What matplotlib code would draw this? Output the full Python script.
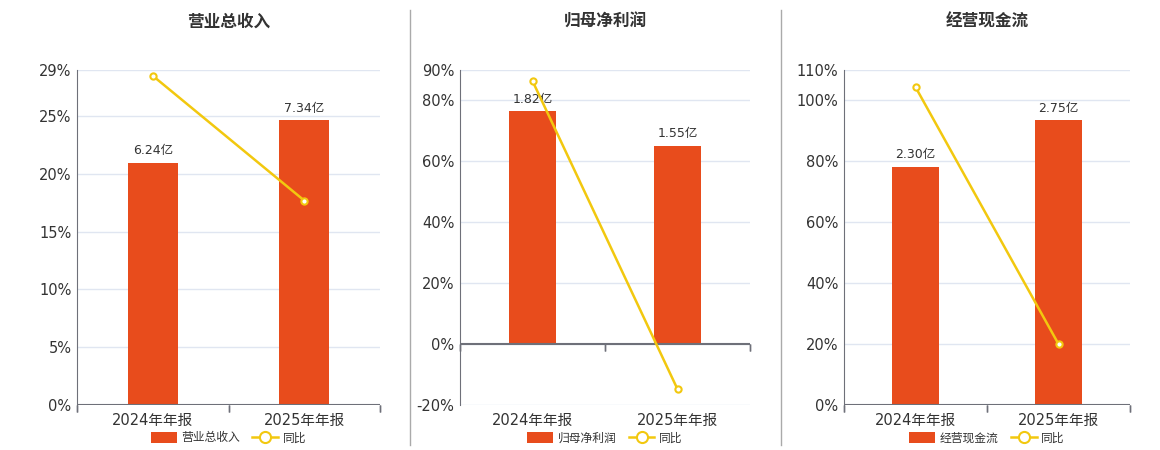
import matplotlib
matplotlib.use('Agg')
import matplotlib.pyplot as plt
from matplotlib.patches import Patch
from matplotlib.lines import Line2D

plt.rcParams['font.family'] = ['DejaVu Sans', 'Noto Sans CJK SC']

categories = ['2024年年报', '2025年年报']
titles = ['营业总收入', '归母净利润', '经营现金流']
bar_values = [[6.24, 7.34], [1.82, 1.55], [2.30, 2.75]]
bar_labels = [['6.24亿', '7.34亿'], ['1.82亿', '1.55亿'], ['2.30亿', '2.75亿']]
yoy_values = [[28.5, 17.7], [86.4, -14.8], [104.4, 20.0]]
pct_ticks = [[0, 5, 10, 15, 20, 25, 29],
             [-20, 0, 20, 40, 60, 80, 90],
             [0, 20, 40, 60, 80, 100, 110]]
bar_limits = [(0, 8.63), (-0.477, 2.143), (0, 3.235)]

BAR_COLOR = '#e84c1c'
LINE_COLOR = '#f2c80f'
GRID_COLOR = '#e0e6f1'
AXIS_COLOR = '#6e7079'
TEXT_COLOR = '#333333'

fig = plt.figure(figsize=(11.6, 4.5), dpi=100)

# axes boxes in pixels: left, right
boxes = [(77, 380), (460, 750), (844, 1130)]
W, H = 1160, 450
top_px, bot_px = 70, 405

for i in range(3):
    l, r = boxes[i]
    ax = fig.add_axes([l / W, (H - bot_px) / H, (r - l) / W, (bot_px - top_px) / H])
    ax_bar = ax.twinx()
    ax_line = ax.twinx()

    x = list(range(len(categories)))
    ticks = pct_ticks[i]
    ax.set_xlim(-0.5, 1.5)
    ax.set_ylim(ticks[0], ticks[-1])
    ax.set_yticks(ticks)
    ax.set_yticklabels([f'{t}%' for t in ticks], fontsize=10.5, color=TEXT_COLOR)
    ax.tick_params(axis='y', length=0, pad=4)
    ax.grid(axis='y', color=GRID_COLOR, linewidth=1)
    ax.set_axisbelow(True)

    # bars on hidden secondary axis
    ax_bar.set_ylim(*bar_limits[i])
    ax_bar.set_yticks([])
    bars = ax_bar.bar(x, bar_values[i], width=0.33, color=BAR_COLOR, zorder=2)
    for b, lab in zip(bars, bar_labels[i]):
        ax_bar.annotate(lab, (b.get_x() + b.get_width() / 2, b.get_height()),
                        xytext=(0, 4), textcoords='offset points',
                        ha='center', va='bottom', fontsize=9, color=TEXT_COLOR)

    # yoy line on its own layer above the bars, same scale as percent axis
    ax_line.set_ylim(ticks[0], ticks[-1])
    ax_line.set_yticks([])
    ax_line.axhline(0, color=AXIS_COLOR, linewidth=1.5, zorder=1)
    for bx in [-0.5, 0.5, 1.5]:
        ax_line.plot([bx, bx], [0, 0], marker=3, markersize=5, color=AXIS_COLOR,
                     clip_on=False, zorder=1)
    ax_line.plot(x, yoy_values[i], color=LINE_COLOR, linewidth=1.8, marker='o',
                 markersize=4.5, markerfacecolor='white', markeredgecolor=LINE_COLOR,
                 markeredgewidth=1.5, zorder=5)

    for a in (ax, ax_bar, ax_line):
        for s in a.spines.values():
            s.set_visible(False)
    ax.spines['left'].set_visible(True)
    ax.spines['left'].set_color(AXIS_COLOR)

    ax.set_xticks([])
    for xi, c in zip(x, categories):
        ax.text(xi, -0.025, c, transform=ax.get_xaxis_transform(),
                ha='center', va='top', fontsize=10.5, color=TEXT_COLOR)

    ax.set_title(titles[i], fontsize=12, fontweight='bold', color=TEXT_COLOR,
                 pad=31)

    handles = [Patch(facecolor=BAR_COLOR, edgecolor='none'),
               Line2D([0], [0], color=LINE_COLOR, linewidth=1.8, marker='o',
                      markersize=8, markerfacecolor='white',
                      markeredgecolor=LINE_COLOR, markeredgewidth=1.5)]
    ax_line.legend(handles, [titles[i], '同比'], loc='upper center',
                   bbox_to_anchor=(0.5, -0.047), ncol=2, frameon=False, fontsize=8.5,
                   handlelength=2.2, handleheight=1.1, columnspacing=1.0,
                   handletextpad=0.4, labelcolor=TEXT_COLOR)

# panel dividers
for xd in [410, 781]:
    fig.add_artist(Line2D([xd / W, xd / W], [(H - 445) / H, (H - 10) / H],
                          color='#aaaaaa', linewidth=1))

fig.savefig('out.png', dpi=100, facecolor='white')
